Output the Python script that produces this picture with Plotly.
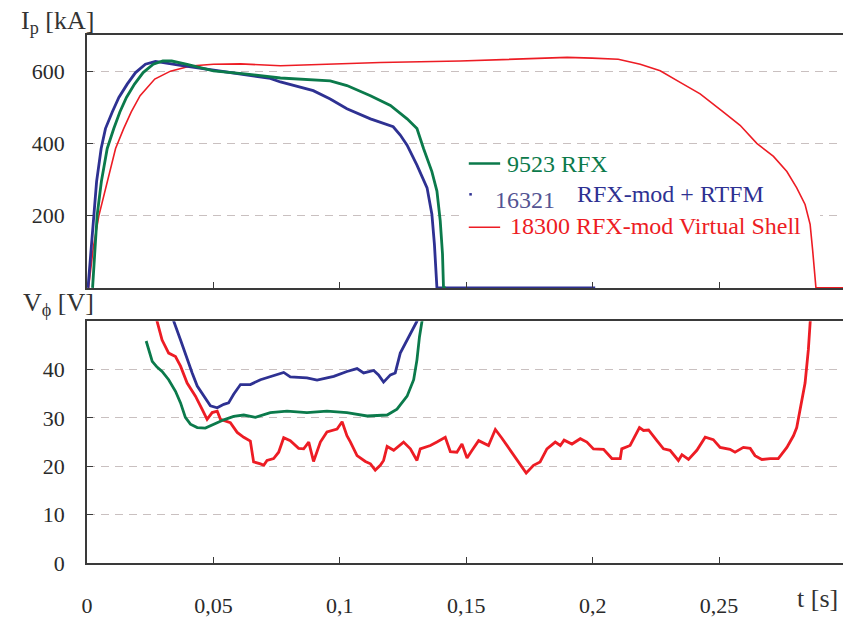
import plotly.graph_objects as go

# ---- plasma current Ip [kA] vs time [s] ----
t_ip_9523 = [0.0022, 0.0031, 0.0040, 0.0057, 0.0068, 0.0080, 0.0106, 0.0130, 0.0156, 0.0188,
             0.0222, 0.0262, 0.0300, 0.0335, 0.0396, 0.0500, 0.0633, 0.0765, 0.0962, 0.1028,
             0.1121, 0.1200, 0.1266, 0.1305, 0.1331, 0.1364, 0.1384, 0.1397, 0.1406, 0.1410,
             0.1420]
ip_9523 = [0, 112, 200, 295, 340, 386, 441, 487, 527, 564,
           596, 619, 628, 628, 619, 601, 592, 581, 573, 560,
           532, 505, 468, 441, 386, 322, 268, 186, 94, 0,
           0]

t_ip_16321 = [0.0004, 0.0018, 0.0026, 0.0038, 0.0056, 0.0073, 0.0100, 0.0126, 0.0159, 0.0192,
              0.0231, 0.0271, 0.0370, 0.0567, 0.0725, 0.0765, 0.0895, 0.0962, 0.1028, 0.1121,
              0.1211, 0.1239, 0.1266, 0.1305, 0.1345, 0.1364, 0.1374, 0.1384, 0.2010]
ip_16321 = [0, 120, 200, 295, 386, 441, 487, 527, 564, 596,
            619, 627, 616, 597, 580, 570, 546, 523, 496, 468,
            446, 423, 395, 340, 277, 204, 121, 0, 0]

t_ip_18300 = [0.0006, 0.0025, 0.0047, 0.0080, 0.0113, 0.0145, 0.0175, 0.0210, 0.0268, 0.0330,
              0.0409, 0.0500, 0.0607, 0.0765, 0.0962, 0.1160, 0.1476, 0.1713, 0.1899, 0.1998,
              0.2101, 0.2188, 0.2267, 0.2346, 0.2425, 0.2516, 0.2583, 0.2649, 0.2715, 0.2768,
              0.2807, 0.2840, 0.2860, 0.2870, 0.2879, 0.2883, 0.2990]
ip_18300 = [0, 112, 200, 295, 386, 441, 487, 532, 578, 600,
            614, 619, 620, 615, 620, 624, 628, 633, 638, 636,
            633, 619, 601, 569, 537, 487, 450, 400, 364, 322,
            277, 231, 176, 104, 30, 0, 0]

# ---- loop voltage V_phi [V] vs time [s] ----
t_v_9523 = [0.0234, 0.0244, 0.0258, 0.0277, 0.0297, 0.0323, 0.0350, 0.0370, 0.0389, 0.0409,
            0.0436, 0.0468, 0.0501, 0.0541, 0.0580, 0.0620, 0.0666, 0.0725, 0.0791, 0.0870,
            0.0949, 0.1028, 0.1108, 0.1187, 0.1226, 0.1266, 0.1292, 0.1305, 0.1315, 0.1325,
            0.1335]
v_9523 = [45.9, 44.1, 41.7, 40.5, 39.6, 37.9, 35.5, 33.1, 30.1, 28.7,
          28.0, 27.9, 28.7, 29.6, 30.3, 30.6, 30.1, 31.1, 31.4, 31.1,
          31.4, 31.1, 30.4, 30.6, 31.8, 34.5, 37.9, 42.0, 46.8, 50.0,
          57.0]

t_v_16321 = [0.0330, 0.0343, 0.0370, 0.0396, 0.0416, 0.0436, 0.0462, 0.0488, 0.0515, 0.0541,
             0.0560, 0.0580, 0.0607, 0.0646, 0.0686, 0.0725, 0.0778, 0.0804, 0.0870, 0.0910,
             0.0976, 0.1028, 0.1068, 0.1094, 0.1134, 0.1153, 0.1173, 0.1200, 0.1219, 0.1239,
             0.1279, 0.1305, 0.1318]
v_16321 = [54.0, 50.0, 46.1, 42.0, 39.3, 36.6, 34.5, 32.5, 32.1, 32.8,
           33.1, 34.9, 36.9, 36.9, 37.9, 38.6, 39.4, 38.5, 38.3, 37.8,
           38.6, 39.6, 40.2, 39.3, 39.8, 38.9, 37.4, 38.9, 39.3, 43.4,
           47.5, 50.0, 54.0]

t_v_18300 = [0.0265, 0.0277, 0.0297, 0.0323, 0.0350, 0.0370, 0.0396, 0.0429, 0.0455, 0.0475,
             0.0495, 0.0515, 0.0528, 0.0567, 0.0594, 0.0620, 0.0646, 0.0659, 0.0686, 0.0699,
             0.0712, 0.0738, 0.0758, 0.0778, 0.0804, 0.0837, 0.0857, 0.0877, 0.0896, 0.0923,
             0.0949, 0.0989, 0.1009, 0.1028, 0.1042, 0.1068, 0.1101, 0.1121, 0.1140, 0.1160,
             0.1173, 0.1187, 0.1213, 0.1252, 0.1279, 0.1305, 0.1318, 0.1358, 0.1384, 0.1417,
             0.1437, 0.1463, 0.1483, 0.1503, 0.1523, 0.1549, 0.1588, 0.1615, 0.1641, 0.1674,
             0.1713, 0.1737, 0.1766, 0.1792, 0.1819, 0.1852, 0.1872, 0.1887, 0.1918, 0.1951,
             0.1977, 0.2003, 0.2043, 0.2076, 0.2109, 0.2115, 0.2148, 0.2168, 0.2185, 0.2201,
             0.2221, 0.2254, 0.2280, 0.2306, 0.2339, 0.2353, 0.2379, 0.2412, 0.2445, 0.2477,
             0.2504, 0.2543, 0.2563, 0.2596, 0.2623, 0.2642, 0.2669, 0.2702, 0.2734, 0.2768,
             0.2794, 0.2807, 0.2820, 0.2840, 0.2853, 0.2862, 0.2868]
v_18300 = [54.0, 50.0, 46.1, 43.4, 42.7, 40.7, 37.2, 34.5, 31.8, 29.7,
           31.1, 31.4, 29.7, 29.0, 27.0, 26.0, 25.2, 20.9, 20.5, 20.2,
           21.2, 21.6, 22.9, 25.9, 25.3, 23.7, 23.6, 25.0, 21.0, 25.0,
           27.1, 27.7, 29.2, 26.3, 25.0, 22.2, 21.0, 20.5, 19.2, 20.2,
           21.2, 24.1, 23.3, 25.0, 23.6, 21.2, 23.6, 24.3, 25.0, 26.0,
           23.0, 22.9, 24.6, 21.7, 23.3, 25.3, 24.3, 27.6, 25.8, 23.3,
           20.5, 18.6, 20.2, 20.9, 23.6, 25.0, 24.3, 25.4, 24.6, 25.7,
           25.0, 23.6, 23.5, 21.6, 21.6, 23.6, 24.3, 26.3, 28.0, 27.4,
           27.5, 25.3, 23.6, 23.3, 21.2, 22.4, 21.4, 23.3, 26.0, 25.5,
           23.9, 23.5, 22.9, 23.9, 23.7, 22.2, 21.4, 21.6, 21.6, 23.9,
           26.3, 28.0, 31.8, 37.2, 44.1, 50.0, 56.0]

# ---- axis ticks ----
t_ticks = [0, 0.05, 0.1, 0.15, 0.2, 0.25]
t_ticklabels = ["0", "0,05", "0,1", "0,15", "0,2", "0,25"]
ip_ticks = [200, 400, 600]
ip_ticklabels = ["200", "400", "600"]
v_ticks = [0, 10, 20, 30, 40, 50]
v_ticklabels = ["0", "10", "20", "30", "40", ""]

shot_names = ["9523 RFX", "16321", "RFX-mod + RTFM", "18300 RFX-mod Virtual Shell"]

GREEN = "#0B7A4B"
BLUE = "#2E3192"
RED = "#ED1C24"
GREY_BLUE = "#545493"
AXIS = "#3A3A3A"
GRID = "#C9C0C0"
FONT = "Liberation Serif, Times New Roman, serif"

fig = go.Figure()

# upper panel: plasma current
fig.add_trace(go.Scatter(x=t_ip_18300, y=ip_18300, mode="lines", line=dict(color=RED, width=1.6),
                         xaxis="x", yaxis="y", showlegend=False))
fig.add_trace(go.Scatter(x=t_ip_16321, y=ip_16321, mode="lines", line=dict(color=BLUE, width=2.8),
                         xaxis="x", yaxis="y", showlegend=False))
fig.add_trace(go.Scatter(x=t_ip_9523, y=ip_9523, mode="lines", line=dict(color=GREEN, width=2.8),
                         xaxis="x", yaxis="y", showlegend=False))

# lower panel: loop voltage
fig.add_trace(go.Scatter(x=t_v_18300, y=v_18300, mode="lines", line=dict(color=RED, width=2.8),
                         xaxis="x2", yaxis="y2", showlegend=False))
fig.add_trace(go.Scatter(x=t_v_16321, y=v_16321, mode="lines", line=dict(color=BLUE, width=2.8),
                         xaxis="x2", yaxis="y2", showlegend=False))
fig.add_trace(go.Scatter(x=t_v_9523, y=v_9523, mode="lines", line=dict(color=GREEN, width=2.8),
                         xaxis="x2", yaxis="y2", showlegend=False))

tick_font = dict(family=FONT, size=22, color="#2A2A2A")
common_x = dict(range=[0, 0.299], tickvals=t_ticks, ticktext=t_ticklabels, showgrid=False,
                zeroline=False, showline=True, linecolor=AXIS, linewidth=1.5, mirror=True,
                ticks="inside", ticklen=6, tickcolor=AXIS, tickwidth=1)
common_y = dict(showgrid=True, gridcolor=GRID, gridwidth=1, griddash="8px,6px", zeroline=False,
                showline=True, linecolor=AXIS, linewidth=1.5, ticks="inside", ticklen=6,
                tickcolor=AXIS, tickwidth=1, tickfont=tick_font, ticklabelstandoff=16)

fig.update_layout(
    width=843, height=618, autosize=False,
    margin=dict(l=86.5, r=0, t=35.2, b=49.3),
    paper_bgcolor="white", plot_bgcolor="white",
    font=dict(family=FONT),
    xaxis=dict(common_x, anchor="y", domain=[0, 1], showticklabels=False),
    xaxis2=dict(common_x, anchor="y2", domain=[0, 1], matches="x", tickfont=tick_font,
                ticklabelstandoff=22),
    yaxis=dict(common_y, domain=[0.521, 1.0], range=[0, 700], tickvals=ip_ticks,
               ticktext=ip_ticklabels, anchor="x"),
    yaxis2=dict(common_y, domain=[0, 0.458], range=[0, 50], tickvals=v_ticks,
                ticktext=v_ticklabels, anchor="x2"),
)

# legend panel: white box over the grid, under the curves
fig.add_shape(type="rect", xref="x", yref="y", x0=0.1474, x1=0.2899, y0=125, y1=380,
              fillcolor="white", line=dict(width=0), layer="between")
fig.add_shape(type="line", xref="x", yref="y", x0=0.1510, x1=0.1634, y0=344, y1=344,
              line=dict(color=GREEN, width=2.5))
fig.add_shape(type="line", xref="x", yref="y", x0=0.1512, x1=0.1522, y0=259, y1=259,
              line=dict(color=BLUE, width=2.5))
fig.add_shape(type="line", xref="x", yref="y", x0=0.1510, x1=0.1634, y0=168, y1=168,
              line=dict(color=RED, width=1.5))

legend_font = dict(family=FONT, size=24)
fig.add_annotation(x=0.1654, y=344, xref="x", yref="y", text=shot_names[0], showarrow=False,
                   xanchor="left", yanchor="middle", font=dict(legend_font, color=GREEN))
fig.add_annotation(x=0.1607, y=244, xref="x", yref="y", text=shot_names[1], showarrow=False,
                   xanchor="left", yanchor="middle", font=dict(legend_font, color=GREY_BLUE))
fig.add_annotation(x=0.1931, y=259, xref="x", yref="y", text=shot_names[2], showarrow=False,
                   xanchor="left", yanchor="middle", font=dict(legend_font, color=BLUE))
fig.add_annotation(x=0.1666, y=170, xref="x", yref="y", text=shot_names[3], showarrow=False,
                   xanchor="left", yanchor="middle", font=dict(legend_font, color=RED))

# axis titles
title_font = dict(family=FONT, size=26, color="#333333")
fig.add_annotation(x=-0.0905, y=1.025, xref="paper", yref="paper", text="I<sub>p</sub> [kA]",
                   showarrow=False, xanchor="left", yanchor="middle", font=title_font)
fig.add_annotation(x=-0.0879, y=0.4905, xref="paper", yref="paper", text="V<sub>ϕ</sub> [V]",
                   showarrow=False, xanchor="left", yanchor="middle", font=title_font)
fig.add_annotation(x=0.9366, y=-0.068, xref="paper", yref="paper", text="t [s]",
                   showarrow=False, xanchor="left", yanchor="middle", font=title_font)

fig.write_html("out.html")
